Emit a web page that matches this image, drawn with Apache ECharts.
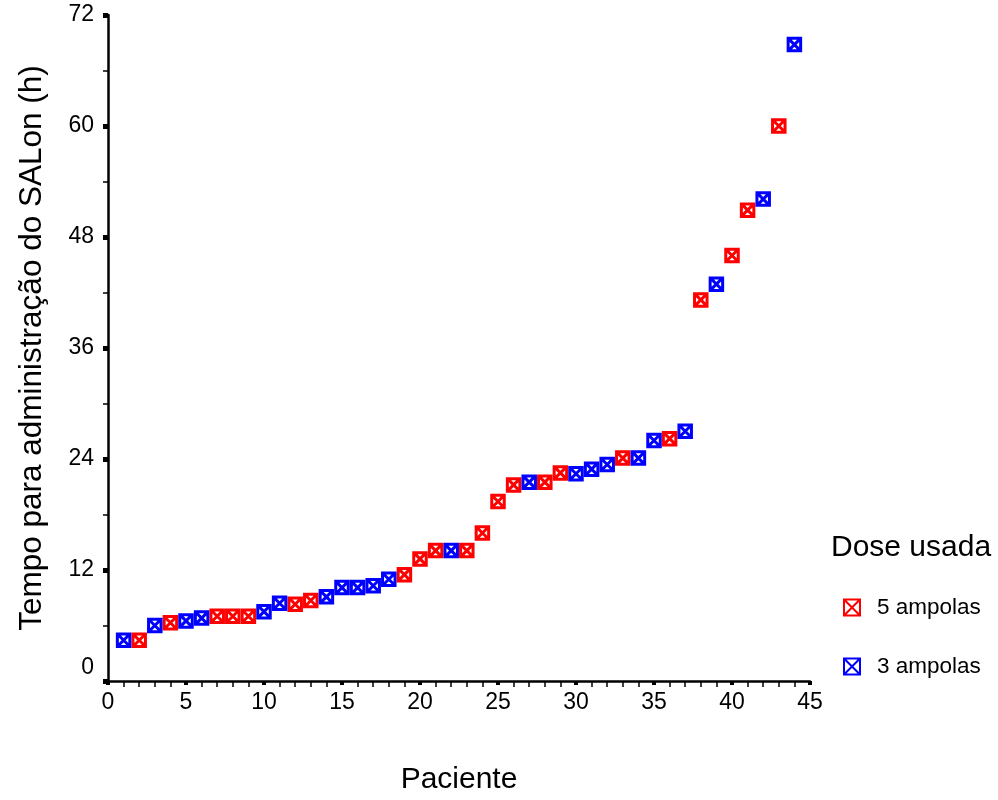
<!DOCTYPE html>
<html>
<head>
<meta charset="utf-8">
<script src="https://cdn.jsdelivr.net/npm/echarts@6/dist/echarts.min.js"></script>
<style>
  html, body { margin: 0; padding: 0; background: #fff; }
  #chart { width: 998px; height: 800px; }
</style>
</head>
<body>
<div id="chart"></div>
<script>
// dados
var pacientes = [1, 2, 3, 4, 5, 6, 7, 8, 9, 10, 11, 12, 13, 14, 15, 16, 17, 18, 19, 20, 21, 22,
  23, 24, 25, 26, 27, 28, 29, 30, 31, 32, 33, 34, 35, 36, 37, 38, 39, 40, 41, 42, 43, 44];
var tempo = [4.4, 4.4, 6.0, 6.3, 6.5, 6.8, 7.0, 7.0, 7.0, 7.5, 8.4, 8.3, 8.7, 9.1, 10.1, 10.1,
  10.3, 11.0, 11.5, 13.2, 14.1, 14.1, 14.1, 16.0, 19.4, 21.2, 21.5, 21.5, 22.5, 22.4, 22.9,
  23.4, 24.1, 24.1, 26.0, 26.2, 27.0, 41.2, 42.9, 46.0, 50.9, 52.1, 60.0, 68.8];
var dose = [3, 5, 3, 5, 3, 3, 5, 5, 5, 3, 3, 5, 5, 3, 3, 3, 3, 3, 5, 5, 5, 3, 5, 5, 5, 5, 3,
  5, 5, 3, 3, 3, 5, 3, 3, 5, 3, 5, 3, 5, 5, 3, 5, 3];
var yTicks = [0, 12, 24, 36, 48, 60, 72];
var xTicks = [0, 5, 10, 15, 20, 25, 30, 35, 40, 45];

var font = "'Liberation Sans', Arial, sans-serif";
var boxX = 'path://M0,0H10V10H0Z M0,0L10,10 M10,0L0,10';

function pontos(d) {
  var out = [];
  for (var i = 0; i < pacientes.length; i++) {
    if (dose[i] === d) out.push([pacientes[i], tempo[i]]);
  }
  return out;
}

var myChart = echarts.init(document.getElementById('chart'));
var option = {
  animation: false,
  backgroundColor: '#fff',
  textStyle: { fontFamily: font },
  title: {
    text: 'Dose usada',
    left: 826,
    top: 528,
    textStyle: { fontFamily: font, fontSize: 30, fontWeight: 'normal', color: '#000' }
  },
  legend: {
    orient: 'vertical',
    left: 838,
    top: 591,
    itemWidth: 16,
    itemHeight: 16,
    itemGap: 36,
    data: ['5 ampolas', '3 ampolas'],
    textStyle: { fontFamily: font, fontSize: 22.5, color: '#000', padding: [0, 0, 0, 12] }
  },
  grid: { left: 108, right: 188, top: 15, bottom: 117 },
  xAxis: {
    type: 'value',
    min: xTicks[0],
    max: xTicks[xTicks.length - 1],
    interval: 5,
    name: 'Paciente',
    nameLocation: 'middle',
    nameGap: 84,
    nameTextStyle: { fontFamily: font, fontSize: 30, color: '#000' },
    axisLine: { show: true, lineStyle: { color: '#000', width: 2.5 } },
    axisTick: { show: true, length: 4, lineStyle: { color: '#000', width: 4 } },
    minorTick: { show: true, splitNumber: 5, length: 6, lineStyle: { color: '#000', width: 1.5 } },
    splitLine: { show: false },
    axisLabel: { margin: 10, fontFamily: font, fontSize: 23, color: '#000' }
  },
  yAxis: {
    type: 'value',
    min: yTicks[0],
    max: yTicks[yTicks.length - 1],
    interval: 12,
    name: 'Tempo para administração do SALon (h)',
    nameLocation: 'middle',
    nameGap: 60,
    nameTextStyle: { fontFamily: font, fontSize: 31.5, color: '#000' },
    axisLine: { show: true, lineStyle: { color: '#000', width: 2.5 } },
    axisTick: { show: true, length: 5, lineStyle: { color: '#000', width: 5 } },
    minorTick: { show: true, splitNumber: 2, length: 5, lineStyle: { color: '#000', width: 1.5 } },
    splitLine: { show: false },
    axisLabel: {
      margin: 14,
      fontFamily: font,
      fontSize: 23,
      color: '#000',
      formatter: function (v) { return v === 0 ? '{z|0}' : String(v); },
      rich: { z: { fontFamily: font, fontSize: 23, color: '#000', padding: [0, 0, 26, 0] } }
    }
  },
  series: [
    {
      name: '5 ampolas',
      type: 'scatter',
      symbol: boxX,
      symbolSize: 12.5,
      itemStyle: { color: 'rgba(0,0,0,0)', borderColor: '#ff0000', borderWidth: 3, opacity: 1 },
      data: pontos(5)
    },
    {
      name: '3 ampolas',
      type: 'scatter',
      symbol: boxX,
      symbolSize: 12.5,
      itemStyle: { color: 'rgba(0,0,0,0)', borderColor: '#0000ff', borderWidth: 3, opacity: 1 },
      data: pontos(3)
    }
  ]
};
myChart.setOption(option);
</script>
</body>
</html>
